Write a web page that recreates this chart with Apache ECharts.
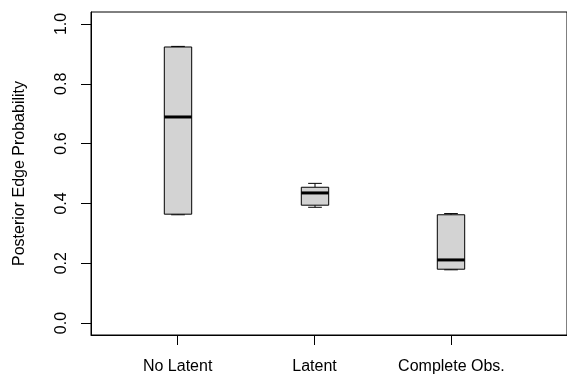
<!DOCTYPE html>
<html>
<head>
<meta charset="utf-8">
<script src="https://cdn.jsdelivr.net/npm/echarts@6.0.0/dist/echarts.min.js"></script>
<style>
html,body{margin:0;padding:0;background:#fff;}
#chart{width:567px;height:376px;}
</style>
</head>
<body>
<div id="chart"></div>
<script>
// ---- data ----
const categories = ['No Latent', 'Latent', 'Complete Obs.'];
const mins    = [0.362, 0.387, 0.178];
const q1s     = [0.364, 0.394, 0.180];
const medians = [0.689, 0.435, 0.211];
const q3s     = [0.923, 0.454, 0.362];
const maxs    = [0.925, 0.467, 0.366];
const yTicks  = [0, 0.2, 0.4, 0.6, 0.8, 1.0];
const xTicks  = [1, 2, 3];

const BOX_WIDTH = 0.2; // in category units
const FONT = "'Liberation Sans', Arial, Helvetica, sans-serif";
const FS = 16;

const boxData = categories.map((c, i) => [i + 1, mins[i], q1s[i], medians[i], q3s[i], maxs[i]]);

function renderItem(params, api) {
  const x = api.value(0);
  const lo = api.coord([x, api.value(1)]);
  const q1 = api.coord([x, api.value(2)]);
  const md = api.coord([x, api.value(3)]);
  const q3 = api.coord([x, api.value(4)]);
  const hi = api.coord([x, api.value(5)]);
  const w = api.size([BOX_WIDTH, 0])[0];
  const cx = Math.round(lo[0]);
  const lineStyle = { stroke: '#000', lineWidth: 1 };
  const dashStyle = { stroke: '#000', lineWidth: 1, lineDash: [4, 3] };
  return {
    type: 'group',
    children: [
      { type: 'line', shape: { x1: cx, y1: hi[1], x2: cx, y2: q3[1] }, style: dashStyle },
      { type: 'line', shape: { x1: cx, y1: q1[1], x2: cx, y2: lo[1] }, style: dashStyle },
      { type: 'line', shape: { x1: cx - w / 4, y1: hi[1], x2: cx + w / 4, y2: hi[1] }, style: lineStyle },
      { type: 'line', shape: { x1: cx - w / 4, y1: lo[1], x2: cx + w / 4, y2: lo[1] }, style: lineStyle },
      { type: 'rect', shape: { x: cx - w / 2, y: q3[1], width: w, height: q1[1] - q3[1] },
        style: { fill: '#d3d3d3', stroke: '#000', lineWidth: 1 } },
      { type: 'line', shape: { x1: cx - w / 2, y1: md[1], x2: cx + w / 2, y2: md[1] },
        style: { stroke: '#000', lineWidth: 3 } }
    ]
  };
}

const chart = echarts.init(document.getElementById('chart'), null, { renderer: 'canvas' });
chart.setOption({
  animation: false,
  backgroundColor: '#fff',
  grid: {
    left: 91, right: -2, top: 12, bottom: 41,
    show: true, borderColor: '#000', borderWidth: 1, backgroundColor: 'transparent'
  },
  xAxis: {
    type: 'value',
    min: 0.367, max: 3.844,
    axisLine: { show: true, onZero: false, lineStyle: { color: '#000', width: 1 } },
    splitLine: { show: false },
    axisTick: { show: true, customValues: xTicks, length: 10, lineStyle: { color: '#000' } },
    axisLabel: {
      customValues: xTicks,
      formatter: v => categories[Math.round(v) - 1] || '',
      color: '#000', fontFamily: FONT, fontSize: FS, margin: 24
    }
  },
  yAxis: {
    type: 'value',
    min: -0.04, max: 1.04,
    name: 'Posterior Edge Probability',
    nameLocation: 'middle',
    nameRotate: 90,
    nameGap: 63,
    nameTextStyle: { color: '#000', fontFamily: FONT, fontSize: FS },
    axisLine: { show: true, onZero: false, lineStyle: { color: '#000', width: 1 } },
    splitLine: { show: false },
    axisTick: { show: true, customValues: yTicks, length: 10, lineStyle: { color: '#000' } },
    axisLabel: {
      customValues: yTicks,
      rotate: 90,
      formatter: v => v.toFixed(1),
      color: '#000', fontFamily: FONT, fontSize: FS, margin: 21
    }
  },
  series: [{
    type: 'custom',
    renderItem: renderItem,
    encode: { x: 0, y: [1, 2, 3, 4, 5] },
    data: boxData,
    clip: false
  }]
});
</script>
</body>
</html>
